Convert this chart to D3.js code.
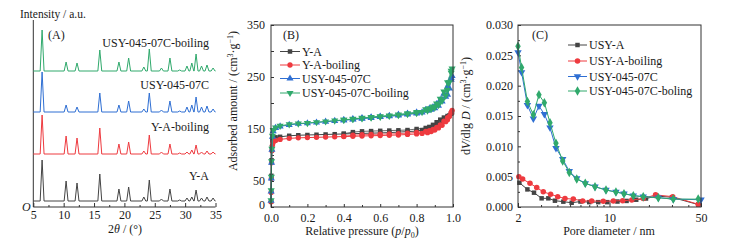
<!DOCTYPE html>
<html><head><meta charset="utf-8">
<script src="https://cdn.jsdelivr.net/npm/d3@7"></script>
<style>
body{margin:0;background:#fff}
svg{display:block}
text{font-family:"Liberation Serif","Times New Roman",serif;fill:#1a1a1a}
</style>
</head><body>
<svg id="c" width="745" height="249"></svg>
<script>
// ---------- Panel A: XRD ----------
const xrdPeakPos = [6.45, 10.4, 12.2, 15.95, 19.1, 20.7, 23.2, 24.1, 26.1, 27.5, 29.1, 30.3, 31.1, 31.8, 32.7, 33.6, 34.6];
const xrdYA       = [41, 20, 18, 27, 12, 14, 4, 21, 2, 12, 1, 3, 4, 11, 3, 4, 3];
const xrdYABoil   = [39, 18, 16, 26, 10, 12, 3, 19, 2, 10, 1, 2, 4, 9, 2, 3, 2];
const xrdUSY      = [40, 7, 5, 19, 7, 11, 3, 19, 2, 11, 1, 5, 7, 15, 5, 6, 3];
const xrdUSYBoil  = [41, 9, 8, 21, 9, 13, 4, 22, 3, 13, 1, 5, 8, 17, 5, 6, 3];
const xrdOffsets  = [6, 53, 95, 136];
const xrdNames    = ["Y-A", "Y-A-boiling", "USY-045-07C", "USY-045-07C-boiling"];
const xrdTicks    = [5, 10, 15, 20, 25, 30, 35];

// ---------- Panel B: N2 isotherms ----------
const pAds = [0.0005,0.001,0.002,0.003,0.005,0.008,0.012,0.025,0.05,0.1,0.15,0.2,0.25,0.3,0.35,0.4,0.45,0.5,0.55,0.6,0.65,0.7,0.75,0.8,0.83,0.86,0.88,0.9,0.92,0.94,0.96,0.97,0.98,0.99,0.995];
const pDes = [0.99,0.97,0.95,0.93,0.91,0.89,0.87,0.85,0.8,0.75,0.7,0.65,0.6,0.55,0.5,0.45,0.4];
const adsYA      = [10,30,60,90,115,128,132,134,135,137,138,138.5,139,139.5,140,140.5,141,141.5,142,142.5,143,144,145,146,148,151,153,156,160,165,170,173,176,180,182];
const desYA      = [180,175,172,168,163,158,154,152,150,148,147.5,147,146.5,146,145.5,144,141];
const adsYABoil  = [10,28,55,85,108,119,124,128,130,132,133,133.5,134,134.5,135,135.5,136,136.5,137,137.5,138,138.5,139.5,140.5,141.5,143,145,148,152,157,164,168,174,181,186];
const desYABoil  = [182,172,165,158,153,149,147,145.5,143.5,142,141,140.5,140,139.5,139,138,136];
const adsUSY     = [12,30,55,85,110,135,146,152,155,158,160,161,162.5,164,165.5,167,168.5,170,171.5,173,174.5,176,178,180,182,185,187,190,195,203,212,216,228,245,252];
const desUSY     = [248,232,218,206,198,192,189,187,182,179.5,177.5,175.5,174,172.5,171,169,167];
const adsUSYBoil = [13,32,58,88,112,137,148,153,156,159,160.5,161.5,163,164.5,166,167.5,169,170.5,172,173.5,175,176.5,178.5,180.5,182.5,185.5,188,191,196,204,214,225,240,258,266];
const desUSYBoil = [262,240,222,208,199,193,190,188,182.5,180,178,176,174.5,173,171.5,169.5,167.5];
const isoNames   = ["Y-A", "Y-A-boiling", "USY-045-07C", "USY-045-07C-boiling"];
const isoYTicks  = [0, 50, 150, 250, 350];
const isoXTicks  = [0, 0.2, 0.4, 0.6, 0.8, 1.0];

// ---------- Panel C: BJH pore size distribution ----------
const dUSYA      = [2.05,2.36,2.65,3.03,3.41,3.83,4.44,5.14,6.0,7.0,8.2,9.6,11.5,13.5,16,19,23,30,47.6];
const vUSYA      = [0.0040,0.0029,0.00236,0.00143,0.00143,0.00104,0.00088,0.0007,0.0009,0.0008,0.0008,0.0008,0.0009,0.0010,0.0012,0.0014,0.0018,0.0016,0.0004];
const dUSYABoil  = [2.03,2.17,2.47,2.78,3.12,3.55,4.02,4.57,5.29,6.24,7.31,8.96,10.7,12.6,14.8,18.1,22.5,30.4,47.6];
const vUSYABoil  = [0.0050,0.0046,0.0039,0.0032,0.0025,0.0021,0.0017,0.0014,0.0013,0.0010,0.0010,0.00094,0.0010,0.00104,0.00115,0.0014,0.0020,0.0017,0.00045];
const dUSY       = [2.0,2.13,2.36,2.62,2.89,3.18,3.51,3.90,4.39,4.93,5.62,6.53,7.75,9.4,11.2,12.9,15.2,18.1,23.6,30.7,50];
const vUSY       = [0.0255,0.0222,0.0168,0.01455,0.01665,0.0153,0.0131,0.0097,0.0079,0.0059,0.0047,0.0039,0.00335,0.0028,0.00247,0.0022,0.00187,0.0017,0.00154,0.0013,0.0012];
const dUSYBoil   = [2.0,2.13,2.36,2.62,2.89,3.18,3.51,3.90,4.39,4.93,5.62,6.53,7.75,9.4,11.2,12.9,15.2,18.1,23.6,30.7,47.6];
const vUSYBoil   = [0.0265,0.0230,0.0174,0.0152,0.0185,0.0172,0.0139,0.0105,0.0076,0.0057,0.0046,0.0039,0.00335,0.0028,0.00247,0.0022,0.00187,0.0017,0.00154,0.0013,0.0013];
const psdNames   = ["USY-A", "USY-A-boiling", "USY-045-07C", "USY-045-07C-boling"];
const psdYTicks  = [0, 0.005, 0.010, 0.015, 0.020, 0.025, 0.030];
const psdXTicks  = [2, 10, 50];

const colors = ["#444444", "#ee3a3f", "#2f6fd3", "#30a96c"];
const svg = d3.select("#c");
const FS = 12;

function frame(x0, x1, y0, y1) {
  svg.append("rect").attr("x", x0).attr("y", y1).attr("width", x1 - x0).attr("height", y0 - y1)
    .attr("fill", "none").attr("stroke", "#333").attr("stroke-width", 1);
}
function styleAxis(g) {
  g.select(".domain").remove();
  g.selectAll(".tick line").attr("stroke", "#333");
  g.selectAll(".tick text").attr("font-family", "Liberation Serif").attr("font-size", FS).attr("fill", "#1a1a1a");
}

// ================= Panel A =================
const xA = d3.scaleLinear([5, 35], [33.3, 215.5]);
const yA = d3.scaleLinear([0, 190], [207, 17]);
svg.append("line").attr("x1", 33.3).attr("x2", 33.3).attr("y1", 20).attr("y2", 207).attr("stroke", "#333");
svg.append("line").attr("x1", 33.3).attr("x2", 215.5).attr("y1", 207).attr("y2", 207).attr("stroke", "#333");
svg.append("g").attr("transform", "translate(0,207)")
  .call(d3.axisBottom(xA).tickValues(d3.range(7.5, 35, 5)).tickSize(-2).tickFormat(""))
  .call(styleAxis);
svg.append("g").attr("transform", "translate(0,207)")
  .call(d3.axisBottom(xA).tickValues(xrdTicks).tickSize(-4).tickPadding(3).tickFormat(d3.format("d")))
  .call(styleAxis);

const xrdSeries = [xrdYA, xrdYABoil, xrdUSY, xrdUSYBoil];
const lineA = d3.line().x(d => xA(d[0])).y(d => yA(d[1]));
xrdSeries.forEach((hs, i) => {
  const off = xrdOffsets[i];
  const pts = [[5, off]];
  xrdPeakPos.forEach((p, k) => {
    pts.push([p - 0.32, off], [p, off + hs[k]], [p + 0.32, off]);
  });
  pts.push([35, off]);
  svg.append("path").attr("d", lineA(pts)).attr("fill", "none")
    .attr("stroke", colors[i]).attr("stroke-width", 1).attr("stroke-linejoin", "round");
});
const xrdLabelY = [176, 127, 85, 43];
xrdNames.forEach((n, i) => {
  svg.append("text").attr("x", 209).attr("y", xrdLabelY[i] + 4).attr("text-anchor", "end")
    .attr("font-size", FS).text(n);
});
svg.append("text").attr("x", 48).attr("y", 39).attr("font-size", FS).text("(A)");
svg.append("text").attr("x", 20).attr("y", 18).attr("font-size", 11.5).text("Intensity / a.u.");
svg.append("text").attr("x", 22).attr("y", 211).attr("font-size", FS).attr("font-style", "italic").text("O");
const tA = svg.append("text").attr("x", 125).attr("y", 233).attr("text-anchor", "middle").attr("font-size", FS);
tA.append("tspan").text("2");
tA.append("tspan").attr("font-style", "italic").text("θ");
tA.append("tspan").text(" / (°)");

// ================= Panel B =================
const xB = d3.scaleLinear([0, 1], [271, 453]);
const yB = d3.scaleLinear([0, 350], [207, 25]);
svg.append("g").attr("transform", "translate(0,207)")
  .call(d3.axisBottom(xB).tickValues(d3.range(0.1, 1, 0.2)).tickSize(-2).tickFormat(""))
  .call(styleAxis);
svg.append("g").attr("transform", "translate(0,207)")
  .call(d3.axisBottom(xB).tickValues(isoXTicks).tickSize(-3).tickPadding(6).tickFormat(d3.format(".1f")))
  .call(styleAxis);
svg.append("g").attr("transform", "translate(271,0)")
  .call(d3.axisLeft(yB).tickValues([100, 200, 300]).tickSize(-3).tickFormat(""))
  .call(styleAxis);
svg.append("g").attr("transform", "translate(271,0)")
  .call(d3.axisLeft(yB).tickValues(isoYTicks).tickSize(-3).tickPadding(6).tickFormat(d3.format("d")))
  .call(styleAxis)
  .call(g => g.selectAll(".tick").filter(d => d === 0).select("text").attr("dy", "0.1em"));

const isoSeries = [[adsYA, desYA], [adsYABoil, desYABoil], [adsUSY, desUSY], [adsUSYBoil, desUSYBoil]];
const symbols = [
  {type: d3.symbolSquare, size: 20, rot: 0},
  {type: d3.symbolCircle, size: 22, rot: 0},
  {type: d3.symbolTriangle, size: 22, rot: 0},
  {type: d3.symbolTriangle, size: 22, rot: 180}
];
const lineB = d3.line().x(d => xB(d[0])).y(d => yB(d[1]));
isoSeries.forEach((s, i) => {
  const ads = pAds.map((p, k) => [p, s[0][k]]);
  const des = pDes.map((p, k) => [p, s[1][k]]);
  const g = svg.append("g");
  g.append("path").attr("d", lineB(ads)).attr("fill", "none").attr("stroke", colors[i]).attr("stroke-width", 1);
  g.append("path").attr("d", lineB(des)).attr("fill", "none").attr("stroke", colors[i]).attr("stroke-width", 1).attr("opacity", 0.8);
  const sym = d3.symbol().type(symbols[i].type).size(symbols[i].size);
  g.selectAll(null).data(ads.concat(des)).join("path")
    .attr("d", sym)
    .attr("transform", d => `translate(${xB(d[0])},${yB(d[1])}) rotate(${symbols[i].rot})`)
    .attr("fill", colors[i]);
});
frame(271, 453, 207, 25);
svg.append("text").attr("x", 283).attr("y", 39).attr("font-size", FS).text("(B)");
const legBY = [51.5, 65, 78.5, 93];
isoNames.forEach((n, i) => {
  const y = legBY[i];
  svg.append("line").attr("x1", 280).attr("x2", 300).attr("y1", y).attr("y2", y).attr("stroke", colors[i]);
  svg.append("path").attr("d", d3.symbol().type(symbols[i].type).size(symbols[i].size)())
    .attr("transform", `translate(290,${y}) rotate(${symbols[i].rot})`).attr("fill", colors[i]);
  svg.append("text").attr("x", 302).attr("y", y + 4).attr("font-size", FS).text(n);
});
const tB = svg.append("text").attr("x", 362).attr("y", 235).attr("text-anchor", "middle").attr("font-size", FS);
tB.append("tspan").text("Relative pressure (");
tB.append("tspan").attr("font-style", "italic").text("p");
tB.append("tspan").text("/");
tB.append("tspan").attr("font-style", "italic").text("p");
tB.append("tspan").attr("font-size", 8).attr("dy", 3).text("0");
tB.append("tspan").attr("dy", -3).text(")");
const yTB = svg.append("text").attr("transform", "translate(237,101) rotate(-90)").attr("text-anchor", "middle").attr("font-size", FS);
yTB.append("tspan").text("Adsorbed amount / (cm");
yTB.append("tspan").attr("font-size", 8).attr("dy", -4).text("3");
yTB.append("tspan").attr("dy", 4).text("·g");
yTB.append("tspan").attr("font-size", 8).attr("dy", -4).text("−1");
yTB.append("tspan").attr("dy", 4).text(")");

// ================= Panel C =================
const xC = d3.scaleLog([2, 50], [518, 701]);
const yC = d3.scaleLinear([0, 0.03], [207, 25]);
svg.append("g").attr("transform", "translate(0,207)")
  .call(d3.axisBottom(xC).tickValues([3,4,5,6,7,8,9,20,30,40]).tickSize(-2).tickFormat(""))
  .call(styleAxis);
svg.append("g").attr("transform", "translate(0,207)")
  .call(d3.axisBottom(xC).tickValues(psdXTicks).tickSize(-4).tickPadding(6).tickFormat(d3.format("d")))
  .call(styleAxis);
svg.append("g").attr("transform", "translate(518,0)")
  .call(d3.axisLeft(yC).tickValues(d3.range(0.0025, 0.03, 0.005)).tickSize(-2).tickFormat(""))
  .call(styleAxis);
svg.append("g").attr("transform", "translate(518,0)")
  .call(d3.axisLeft(yC).tickValues(psdYTicks).tickSize(-3).tickPadding(5).tickFormat(d3.format(".3f")))
  .call(styleAxis);

const psdSeries = [[dUSYA, vUSYA], [dUSYABoil, vUSYABoil], [dUSY, vUSY], [dUSYBoil, vUSYBoil]];
const symC = [
  {type: d3.symbolSquare, size: 20, rot: 0},
  {type: d3.symbolCircle, size: 24, rot: 0},
  {type: d3.symbolTriangle, size: 24, rot: 180},
  {type: d3.symbolDiamond, size: 26, rot: 0}
];
const lineC = d3.line().x(d => xC(d[0])).y(d => yC(d[1]));
psdSeries.forEach((s, i) => {
  const pts = s[0].map((d, k) => [d, s[1][k]]);
  const g = svg.append("g");
  g.append("path").attr("d", lineC(pts)).attr("fill", "none").attr("stroke", colors[i]).attr("stroke-width", 1);
  const sym = d3.symbol().type(symC[i].type).size(symC[i].size);
  g.selectAll(null).data(pts).join("path").attr("d", sym)
    .attr("transform", d => `translate(${xC(d[0])},${yC(d[1])}) rotate(${symC[i].rot})`)
    .attr("fill", colors[i]);
});
frame(518, 701, 207, 25);
svg.append("text").attr("x", 532).attr("y", 39).attr("font-size", FS).text("(C)");
const legCY = [45, 61, 76.5, 91];
psdNames.forEach((n, i) => {
  const y = legCY[i];
  svg.append("line").attr("x1", 568).attr("x2", 587).attr("y1", y).attr("y2", y).attr("stroke", colors[i]);
  svg.append("path").attr("d", d3.symbol().type(symC[i].type).size(symC[i].size)())
    .attr("transform", `translate(577.5,${y}) rotate(${symC[i].rot})`).attr("fill", colors[i]);
  svg.append("text").attr("x", 589).attr("y", y + 4).attr("font-size", FS).text(n);
});
svg.append("text").attr("x", 609).attr("y", 235).attr("text-anchor", "middle").attr("font-size", FS).text("Pore diameter / nm");
const yTC = svg.append("text").attr("transform", "translate(470,106) rotate(-90)").attr("text-anchor", "middle").attr("font-size", FS);
yTC.append("tspan").text("d");
yTC.append("tspan").attr("font-style", "italic").text("V");
yTC.append("tspan").text("/dlg ");
yTC.append("tspan").attr("font-style", "italic").text("D");
yTC.append("tspan").text(" / (cm");
yTC.append("tspan").attr("font-size", 8).attr("dy", -4).text("3");
yTC.append("tspan").attr("dy", 4).text("·g");
yTC.append("tspan").attr("font-size", 8).attr("dy", -4).text("−1");
yTC.append("tspan").attr("dy", 4).text(")");
</script>
</body></html>
